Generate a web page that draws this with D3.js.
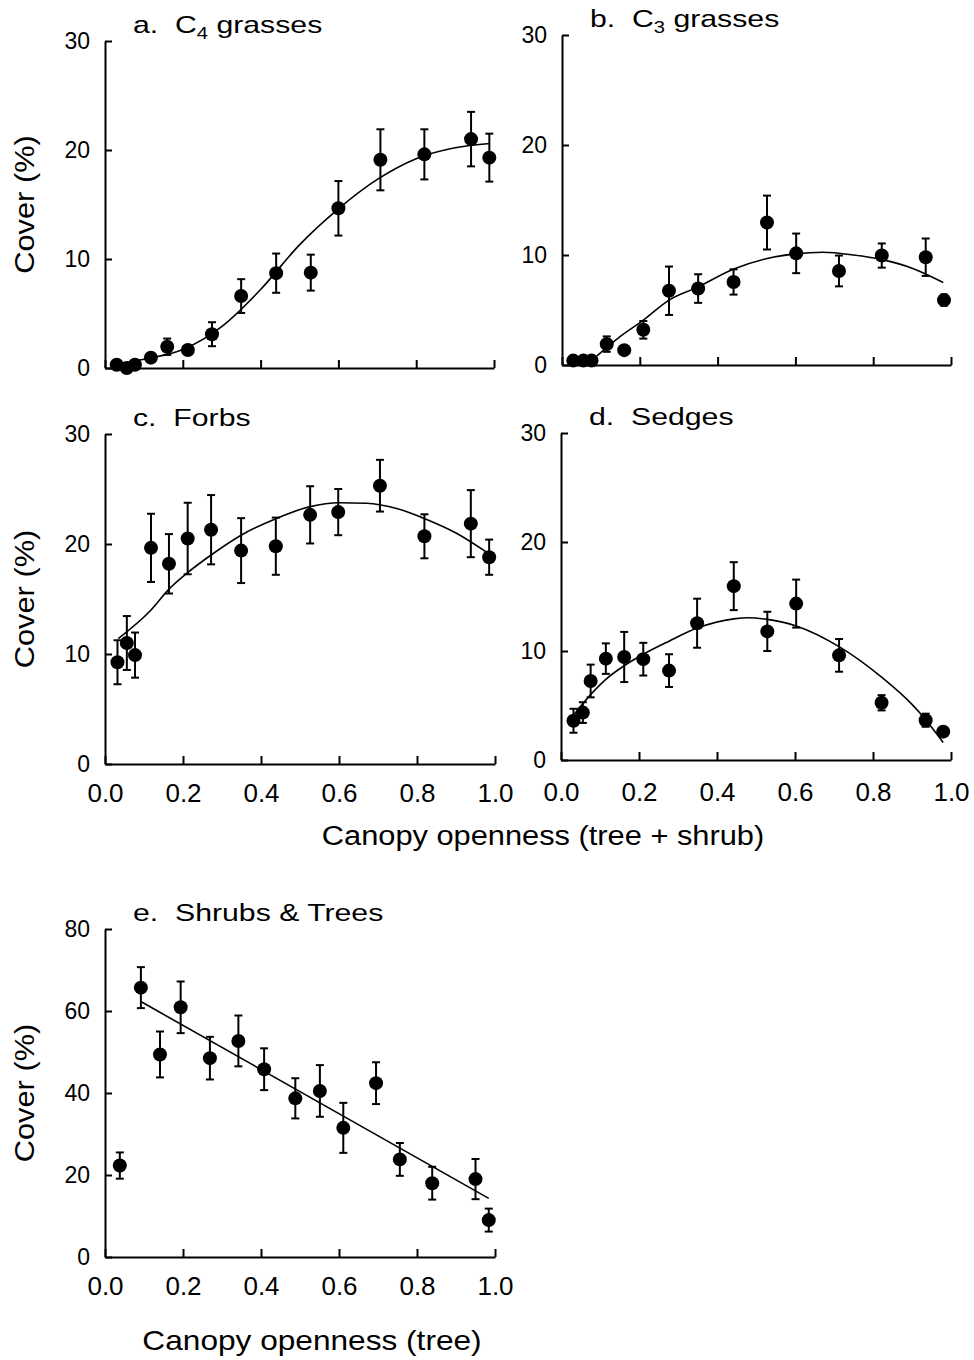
<!DOCTYPE html>
<html>
<head>
<meta charset="utf-8">
<script src="https://cdn.jsdelivr.net/npm/d3@7"></script>
<style>
body{margin:0;background:#fff;}
svg text{font-family:"Liberation Sans",Arial,sans-serif;fill:#000;}
.axis path,.axis line{stroke:#000;stroke-width:2px;}
.axis text{font-size:23px;}
.axis-x text{font-size:26px;}
.fit{fill:none;stroke:#000;stroke-width:1.6px;}
.err{stroke:#000;stroke-width:2px;}
.title{white-space:pre;}
</style>
</head>
<body>
<svg id="chart" width="974" height="1360"></svg>
<script>
//Data
const ticksX = [0, 0.2, 0.4, 0.6, 0.8, 1.0];
const ticksY30 = [0, 10, 20, 30];
const ticksY80 = [0, 20, 40, 60, 80];

//a. C4 grasses
const openA = [0.030,0.056,0.077,0.118,0.160,0.213,0.275,0.350,0.440,0.529,0.600,0.708,0.821,0.941,0.988];
const coverA = [0.3,0.0,0.3,0.95,1.95,1.65,3.1,6.6,8.7,8.75,14.65,19.1,19.6,21.0,19.3];
const seA = [0,0,0,0,0.75,0.3,1.1,1.55,1.8,1.65,2.5,2.8,2.3,2.5,2.2];
const fitA = [[0.03,0.3],[0.10,0.8],[0.20,1.7],[0.30,3.8],[0.40,7.2],[0.50,11.3],[0.60,14.6],[0.70,17.3],[0.80,19.2],[0.90,20.2],[0.99,20.6]];

//b. C3 grasses
const openB = [0.029,0.055,0.076,0.115,0.160,0.209,0.275,0.350,0.441,0.527,0.602,0.712,0.822,0.935,0.982];
const coverB = [0.4,0.4,0.4,1.9,1.35,3.2,6.75,6.95,7.55,12.95,10.15,8.55,9.95,9.8,5.9];
const seB = [0,0,0,0.7,0,0.8,2.2,1.3,1.15,2.45,1.8,1.4,1.1,1.7,0.5];
const fitB = [[0.089,0.8],[0.15,2.6],[0.21,4.1],[0.275,5.9],[0.35,7.1],[0.44,8.7],[0.53,9.7],[0.60,10.1],[0.67,10.25],[0.75,10.0],[0.82,9.6],[0.90,8.8],[0.98,7.5]];

//c. Forbs
const openC = [0.032,0.056,0.077,0.118,0.164,0.212,0.272,0.349,0.438,0.526,0.598,0.705,0.819,0.938,0.985];
const coverC = [9.25,11.0,9.9,19.65,18.2,20.5,21.3,19.4,19.8,22.65,22.9,25.3,20.7,21.85,18.8];
const seC = [2.0,2.45,2.05,3.1,2.7,3.25,3.15,2.95,2.6,2.6,2.1,2.35,2.0,3.05,1.6];
const fitC = [[0.034,11.4],[0.118,14.0],[0.164,15.9],[0.212,17.4],[0.272,19.0],[0.349,20.8],[0.438,22.3],[0.526,23.4],[0.60,23.75],[0.67,23.7],[0.75,23.2],[0.82,22.3],[0.90,21.0],[0.985,19.1]];

//d. Sedges
const openD = [0.032,0.056,0.076,0.115,0.162,0.211,0.277,0.349,0.443,0.529,0.603,0.713,0.822,0.935,0.980];
const coverD = [3.6,4.35,7.25,9.3,9.45,9.25,8.2,12.55,15.95,11.8,14.35,9.6,5.25,3.65,2.6];
const seD = [1.1,0.95,1.5,1.4,2.3,1.5,1.5,2.25,2.2,1.8,2.2,1.5,0.7,0.6,0.3];
const fitD = [[0.034,4.2],[0.076,6.0],[0.115,7.4],[0.16,8.6],[0.211,9.7],[0.277,10.9],[0.349,12.1],[0.443,12.95],[0.48,13.05],[0.529,12.9],[0.603,12.3],[0.713,10.4],[0.822,7.6],[0.90,5.1],[0.935,3.7],[0.98,1.6]];

//e. Shrubs & Trees
const openE = [0.038,0.092,0.141,0.194,0.269,0.342,0.408,0.488,0.551,0.611,0.695,0.756,0.839,0.950,0.984];
const coverE = [22.3,65.7,49.4,60.9,48.5,52.7,45.8,38.7,40.5,31.5,42.4,23.8,18.0,19.0,9.0];
const seE = [3.2,5.0,5.6,6.3,5.2,6.2,5.1,4.9,6.3,6.1,5.1,4.0,4.0,4.9,2.8];
const fitE = [[0.092,62.3],[0.984,14.3]];

const panels = [
	{id:'a', pre:'a.  C', sub:'4', post:' grasses', x:openA, y:coverA, se:seA, fit:fitA, yMax:30, yTicks:ticksY30,
		box:{l:105,r:494,t:41,b:368}, labelX:false, coverLabel:true},
	{id:'b', pre:'b.  C', sub:'3', post:' grasses', x:openB, y:coverB, se:seB, fit:fitB, yMax:30, yTicks:ticksY30,
		box:{l:562,r:951,t:35,b:365}, labelX:false, coverLabel:false},
	{id:'c', pre:'c.  Forbs', x:openC, y:coverC, se:seC, fit:fitC, yMax:30, yTicks:ticksY30,
		box:{l:105,r:495,t:434,b:764}, labelX:true, coverLabel:true},
	{id:'d', pre:'d.  Sedges', x:openD, y:coverD, se:seD, fit:fitD, yMax:30, yTicks:ticksY30,
		box:{l:561,r:951,t:433,b:760}, labelX:true, coverLabel:false},
	{id:'e', pre:'e.  Shrubs & Trees', x:openE, y:coverE, se:seE, fit:fitE, yMax:80, yTicks:ticksY80,
		box:{l:105,r:495,t:929,b:1257}, labelX:true, coverLabel:true}
];

const svg = d3.select('#chart');

panels.forEach(p => {
	const b = p.box;
	const scaleX = d3.scaleLinear().domain([0,1]).range([b.l,b.r]);
	const scaleY = d3.scaleLinear().domain([0,p.yMax]).range([b.b,b.t]);
	const g = svg.append('g').attr('class','panel panel-'+p.id);

	//Axes, ticks point inward
	const axisX = d3.axisBottom(scaleX)
		.tickValues(ticksX)
		.tickSizeInner(-8)
		.tickSizeOuter(0)
		.tickPadding(p.id === 'd' ? 23 : 20)
		.tickFormat(p.labelX ? d3.format('.1f') : () => '');
	g.append('g')
		.attr('class','axis axis-x')
		.attr('transform',`translate(0,${b.b})`)
		.call(axisX);

	const axisY = d3.axisLeft(scaleY)
		.tickValues(p.yTicks)
		.tickSizeInner(-7)
		.tickSizeOuter(0)
		.tickPadding(15);
	g.append('g')
		.attr('class','axis axis-y')
		.attr('transform',`translate(${b.l},0)`)
		.call(axisY);
	g.selectAll('.axis-y .tick line').attr('stroke-width',1.5);

	//Fitted curve
	const line = d3.line()
		.x(d => scaleX(d[0]))
		.y(d => scaleY(d[1]))
		.curve(d3.curveMonotoneX);
	g.append('path')
		.attr('class','fit')
		.attr('d', line(p.fit));

	//Error bars
	const pts = p.x.map((v,i) => ({x:v, y:p.y[i], se:p.se[i]}));
	const bars = g.selectAll('.err')
		.data(pts.filter(d => d.se > 0))
		.enter().append('g')
		.attr('class','err');
	bars.append('line')
		.attr('x1', d => scaleX(d.x)).attr('x2', d => scaleX(d.x))
		.attr('y1', d => scaleY(d.y - d.se)).attr('y2', d => scaleY(d.y + d.se));
	bars.append('line')
		.attr('x1', d => scaleX(d.x)-4).attr('x2', d => scaleX(d.x)+4)
		.attr('y1', d => scaleY(d.y + d.se)).attr('y2', d => scaleY(d.y + d.se));
	bars.append('line')
		.attr('x1', d => scaleX(d.x)-4).attr('x2', d => scaleX(d.x)+4)
		.attr('y1', d => scaleY(d.y - d.se)).attr('y2', d => scaleY(d.y - d.se));

	//Points
	g.selectAll('.dot')
		.data(pts)
		.enter().append('circle')
		.attr('class','dot')
		.attr('cx', d => scaleX(d.x))
		.attr('cy', d => scaleY(d.y))
		.attr('r', 7)
		.attr('fill','#000');

	//Panel title (the print is wide, so stretch it)
	const title = g.append('text')
		.attr('class','title')
		.attr('transform',`translate(${b.l+28},${b.t-8}) scale(1.26,1)`)
		.style('font-size','24px');
	title.append('tspan').text(p.pre);
	if(p.sub){
		title.append('tspan').text(p.sub).attr('dy',6).style('font-size','16px');
		title.append('tspan').text(p.post).attr('dy',-6);
	}

	//Y axis title
	if(p.coverLabel){
		g.append('text')
			.attr('transform',`translate(34,${(b.t+b.b)/2}) rotate(-90) scale(1.1,1)`)
			.attr('text-anchor','middle')
			.style('font-size','28px')
			.text('Cover (%)');
	}
});

//X axis titles
svg.append('text')
	.attr('transform','translate(543,845) scale(1.1,1)')
	.attr('text-anchor','middle')
	.style('font-size','28px')
	.text('Canopy openness (tree + shrub)');
svg.append('text')
	.attr('transform','translate(312,1350) scale(1.13,1)')
	.attr('text-anchor','middle')
	.style('font-size','28px')
	.text('Canopy openness (tree)');
</script>
</body>
</html>
